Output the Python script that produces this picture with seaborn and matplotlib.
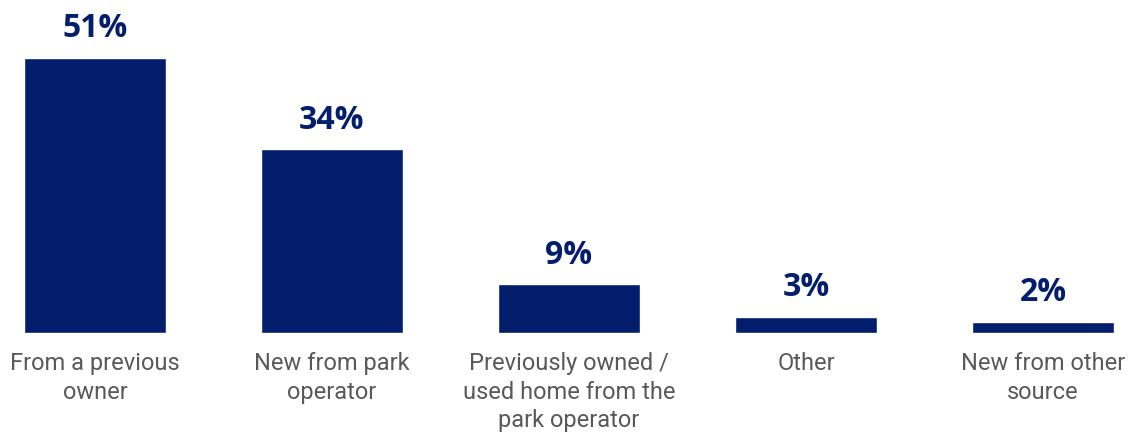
import matplotlib
matplotlib.use("Agg")
import matplotlib.pyplot as plt
import seaborn as sns
import pandas as pd

categories = [
    "From a previous\nowner",
    "New from park\noperator",
    "Previously owned /\nused home from the\npark operator",
    "Other",
    "New from other\nsource",
]
values = [51, 34, 9, 3, 2]
value_labels = ["51%", "34%", "9%", "3%", "2%"]

BAR_COLOR = "#041E6E"
TEXT_GREY = "#595959"

sns.set_theme(style="white")

df = pd.DataFrame({"category": categories, "share": values})

fig = plt.figure(figsize=(11.29, 4.32), dpi=100)
ax = fig.add_axes([0.0, 99 / 432, 1.0, 324 / 432])

sns.barplot(data=df, x="category", y="share", color=BAR_COLOR,
            width=0.6, saturation=1, ax=ax)

ax.set_xlim(-0.4008, 4.363)
ax.set_ylim(0, 60)

for i, (v, lab) in enumerate(zip(values, value_labels)):
    ax.annotate(lab, xy=(i, v), xytext=(0, 15), textcoords="offset points",
                ha="center", va="baseline", fontsize=23, fontweight="bold",
                color=BAR_COLOR, family="Open Sans")

ax.set_xlabel("")
ax.set_ylabel("")
ax.set_yticks([])
ax.tick_params(axis="x", length=0, pad=14)
ax.set_xticks(range(len(categories)))
ax.set_xticklabels(categories, fontsize=17, color=TEXT_GREY, family="Roboto",
                   linespacing=1.3)
sns.despine(ax=ax, left=True, bottom=True)

fig.savefig("out.png", dpi=100)
